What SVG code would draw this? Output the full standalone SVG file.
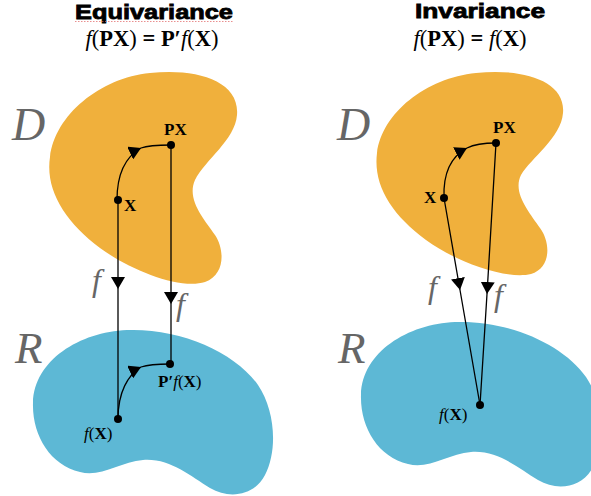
<svg xmlns="http://www.w3.org/2000/svg" width="591" height="496" viewBox="0 0 591 496">
<style>
.title{font-family:"Liberation Sans",Arial,sans-serif;font-weight:bold;font-size:20px;fill:#000;stroke:#000;stroke-width:0.8}
.eq{font-family:"Liberation Serif","Times New Roman",serif;font-size:22.5px;fill:#000}
.lbl{font-family:"Liberation Serif","Times New Roman",serif;font-size:17px;fill:#000}
.b{font-weight:bold}
.i{font-style:italic}
.big{font-family:"Liberation Serif","Times New Roman",serif;font-style:italic;fill:#666}
.orange{fill:#F0B03C}
.blue{fill:#5DB8D5}
.conn{fill:none;stroke:#000;stroke-width:1.3;marker-mid:url(#arr)}
.dot{fill:#000}
</style>
<defs>
<marker id="arr" viewBox="0 0 12 14" refX="12" refY="7" markerWidth="12" markerHeight="14" markerUnits="userSpaceOnUse" orient="auto">
<path d="M0,0 L12,7 L0,14 Z" fill="#000"/>
</marker>
</defs>
<rect width="591" height="496" fill="#fff"/>

<g id="title-equivariance">
<text class="title" x="154" y="19" text-anchor="middle" textLength="158" lengthAdjust="spacingAndGlyphs">Equivariance</text>
<path d="M75,21.5 L233,21.5" stroke="#E06060" stroke-width="1" stroke-dasharray="1.5,1.5" opacity="0.7"/>
<text class="eq" x="152" y="46" text-anchor="middle"><tspan class="i">f</tspan>(<tspan class="b">PX</tspan>) <tspan class="b">=</tspan> <tspan class="b">P′</tspan><tspan class="i">f</tspan>(<tspan class="b">X</tspan>)</text>
</g>
<g id="title-invariance">
<text class="title" x="480" y="18" text-anchor="middle" textLength="130" lengthAdjust="spacingAndGlyphs">Invariance</text>
<text class="eq" x="470" y="46" text-anchor="middle"><tspan class="i">f</tspan>(<tspan class="b">PX</tspan>) <tspan class="b">=</tspan> <tspan class="i">f</tspan>(<tspan class="b">X</tspan>)</text>
</g>

<g id="domain-left">
<path class="orange" d="M150,73 C195,68 240,80 237,115 C235,140 205,160 195,180 C186,200 205,220 215,235 C225,250 225,275 205,282 C180,290 130,270 100,248 C65,222 45,190 50,157 C55,115 100,78 150,73 Z"/>
<text class="big" x="12" y="140" font-size="46">D</text>
</g>
<g id="range-left">
<path class="blue" d="M127,330 C180,328 235,352 258,385 C275,410 278,450 265,475 C255,495 230,500 210,488 C190,476 170,458 143,460 C120,462 100,478 80,472 C50,465 32,435 33,403 C34,360 80,332 127,330 Z"/>
<text class="big" x="15" y="363" font-size="45">R</text>
</g>
<g id="domain-right">
<path class="orange" d="M476,73 C521,68 566,80 563,113 C561,138 531,158 521,175 C512,193 530,213 540,228 C551,243 551,268 531,274 C506,280 456,262 426,240 C391,214 373,185 377,153 C382,113 426,78 476,73 Z"/>
<text class="big" x="337" y="140" font-size="46">D</text>
</g>
<g id="range-right">
<path class="blue" transform="translate(328,-8)" d="M127,330 C180,328 235,352 258,385 C275,410 278,450 265,475 C255,495 230,500 210,488 C190,476 170,458 143,460 C120,462 100,478 80,472 C50,465 32,435 33,403 C34,360 80,332 127,330 Z"/>
<text class="big" x="338" y="363" font-size="45">R</text>
</g>

<g id="connectors">
<path class="conn" d="M117,200 C117,172 127,156 141,148 C149,145 160,145 171,145"/>
<path class="conn" d="M118,200 L118,289 L118,419"/>
<path class="conn" d="M171,145 L171,304 L171,364"/>
<path class="conn" d="M118,419 C118,392 128,375 141,367 C150,364 160,364 170,364"/>
<path class="conn" d="M444,198 C443,172 452,156 467,148 C475,144 486,143 496,143"/>
<path class="conn" d="M444,198 L460,290 L480,405"/>
<path class="conn" d="M496,143 L487,294 L480,405"/>
</g>

<g id="points-left">
<circle class="dot" cx="118" cy="200" r="4"/>
<circle class="dot" cx="171" cy="145" r="4"/>
<circle class="dot" cx="118" cy="419" r="4"/>
<circle class="dot" cx="170" cy="364" r="4"/>
<text class="lbl b" x="164" y="135">PX</text>
<text class="lbl b" x="124" y="211">X</text>
<text class="lbl" x="158" y="387"><tspan class="b">P′</tspan><tspan class="i">f</tspan>(<tspan class="b">X</tspan>)</text>
<text class="lbl" x="84" y="439" font-size="18"><tspan class="i">f</tspan>(<tspan class="b">X</tspan>)</text>
<text class="big" x="92" y="291" font-size="32">f</text>
<text class="big" x="176" y="315" font-size="32">f</text>
</g>
<g id="points-right">
<circle class="dot" cx="444" cy="198" r="4"/>
<circle class="dot" cx="496" cy="143" r="4"/>
<circle class="dot" cx="480" cy="405" r="4"/>
<text class="lbl b" x="493" y="133">PX</text>
<text class="lbl b" x="424" y="203">X</text>
<text class="lbl" x="439" y="420" font-size="18"><tspan class="i">f</tspan>(<tspan class="b">X</tspan>)</text>
<text class="big" x="428" y="298" font-size="32">f</text>
<text class="big" x="494" y="306" font-size="32">f</text>
</g>
</svg>
